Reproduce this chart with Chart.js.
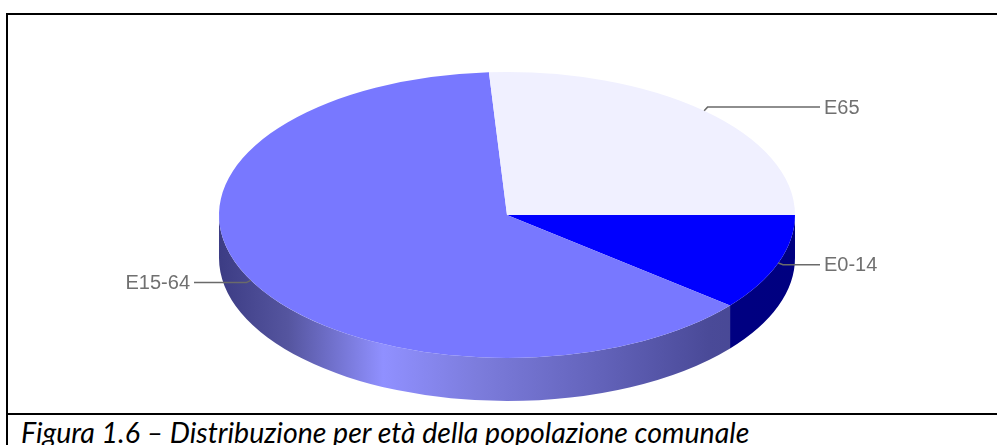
<!DOCTYPE html>
<html>
<head>
<meta charset="utf-8">
<script src="https://cdn.jsdelivr.net/npm/chart.js@4.4.1/dist/chart.umd.min.js"></script>
<style>
  html, body { margin: 0; padding: 0; background: #ffffff; }
  body { width: 997px; height: 445px; position: relative; overflow: hidden; }
  #frame { position: absolute; left: 6px; top: 13px; width: 1000px; height: 398px;
           border-top: 2px solid #000; border-left: 2px solid #000; }
  #sep { position: absolute; left: 6px; top: 413px; width: 1000px; height: 40px;
         border-top: 2px solid #000; border-left: 2px solid #000; }
  #caption { position: absolute; left: 21px; top: 415px; white-space: nowrap;
             font-family: Lato, "Open Sans", sans-serif; font-style: italic;
             font-size: 28.5px; color: #000; line-height: 34px; }
  #wrap { position: absolute; left: 0; top: 0; width: 997px; height: 445px; }
</style>
</head>
<body>
<div id="frame"></div>
<div id="sep"></div>
<div id="caption">Figura 1.6 – Distribuzione per età della popolazione comunale</div>
<div id="wrap"><canvas id="c"></canvas></div>
<script>
// ---- data ----
const categories = ['E0-14', 'E15-64', 'E65'];
const values = [10.9, 63.1, 26.0];
const topColors = ['#0000FF', '#7878FF', '#F0F0FF'];

// ---- 3D elliptical pie plugin ----
const pie3d = {
  id: 'pie3d',
  beforeDatasetsDraw(chart, args, opts) {
    const ctx = chart.ctx;
    const area = chart.chartArea;
    const meta = chart.getDatasetMeta(0);
    const first = meta.data[0];
    const cx = first.x, cy = first.y, r = first.outerRadius;
    const sx = (area.width / 2) / r;
    const rx = r * sx, ry = r;
    const depth = opts.depth;
    ctx.save();
    // side walls (front half: canvas angles 0..PI)
    meta.data.forEach((arc, i) => {
      let a0 = arc.startAngle, a1 = arc.endAngle;
      const segs = [];
      for (const shift of [0, -2 * Math.PI, 2 * Math.PI]) {
        const s = Math.max(a0 + shift, 0), e = Math.min(a1 + shift, Math.PI);
        if (e > s) segs.push([s, e]);
      }
      segs.forEach(([s, e]) => {
        const side = opts.sides[i];
        let fill;
        if (Array.isArray(side)) {
          fill = ctx.createLinearGradient(cx - rx, 0, cx + rx, 0);
          side.forEach(([p, c]) => fill.addColorStop(p, c));
        } else fill = side;
        ctx.beginPath();
        ctx.ellipse(cx, cy, rx, ry, 0, s, e, false);
        ctx.ellipse(cx, cy + depth, rx, ry, 0, e, s, true);
        ctx.closePath();
        ctx.fillStyle = fill;
        ctx.fill();
      });
    });
    // flatten the top face into an ellipse filling the chart area
    ctx.save();
    ctx.translate(cx, cy);
    ctx.scale(sx, 1);
    ctx.translate(-cx, -cy);
  },
  afterDatasetsDraw(chart, args, opts) {
    const ctx = chart.ctx;
    ctx.restore();
    ctx.restore();
    const area = chart.chartArea;
    const meta = chart.getDatasetMeta(0);
    const first = meta.data[0];
    const cx = first.x, cy = first.y, r = first.outerRadius;
    const rx = area.width / 2, ry = r;
    ctx.save();
    ctx.strokeStyle = opts.lineColor;
    ctx.lineWidth = 1.5;
    ctx.fillStyle = opts.textColor;
    ctx.font = opts.font;
    ctx.textBaseline = 'middle';
    meta.data.forEach((arc, i) => {
      const m = (arc.startAngle + arc.endAngle) / 2;
      const px = cx + rx * Math.cos(m), py = cy + ry * Math.sin(m);
      const ex = cx + (rx + 5) * Math.cos(m), ey = cy + (ry + 5) * Math.sin(m);
      const right = Math.cos(m) >= 0;
      const lx = right ? cx + rx + opts.gap : cx - rx - opts.gap;
      ctx.beginPath();
      ctx.moveTo(px, py);
      ctx.lineTo(ex, ey);
      ctx.lineTo(lx, ey);
      ctx.stroke();
      ctx.textAlign = right ? 'left' : 'right';
      ctx.fillText(chart.data.labels[i], right ? lx + 4 : lx - 4, ey + 1);
    });
    ctx.restore();
  }
};

new Chart(document.getElementById('c'), {
  type: 'pie',
  data: {
    labels: categories,
    datasets: [{
      data: values,
      backgroundColor: topColors,
      borderWidth: 0,
      hoverOffset: 0
    }]
  },
  options: {
    responsive: true,
    maintainAspectRatio: false,
    animation: false,
    rotation: 90,
    layout: { padding: { left: 219, right: 202, top: 72, bottom: 87 } },
    plugins: {
      legend: { display: false },
      tooltip: { enabled: false },
      pie3d: {
        depth: 43,
        gap: 25,
        lineColor: '#6a6a6a',
        textColor: '#707070',
        font: '20px "Liberation Sans", Arial, sans-serif',
        sides: [
          [[0, '#00008C'], [1, '#000080']],
          [[0, '#3c3c84'], [0.12, '#55559f'], [0.285, '#9090ff'], [0.45, '#7c7cdc'],
           [0.65, '#6464bc'], [0.85, '#4a4a98'], [1, '#454590']],
          '#c8c8e0'
        ]
      }
    }
  },
  plugins: [pie3d]
});
</script>
</body>
</html>
